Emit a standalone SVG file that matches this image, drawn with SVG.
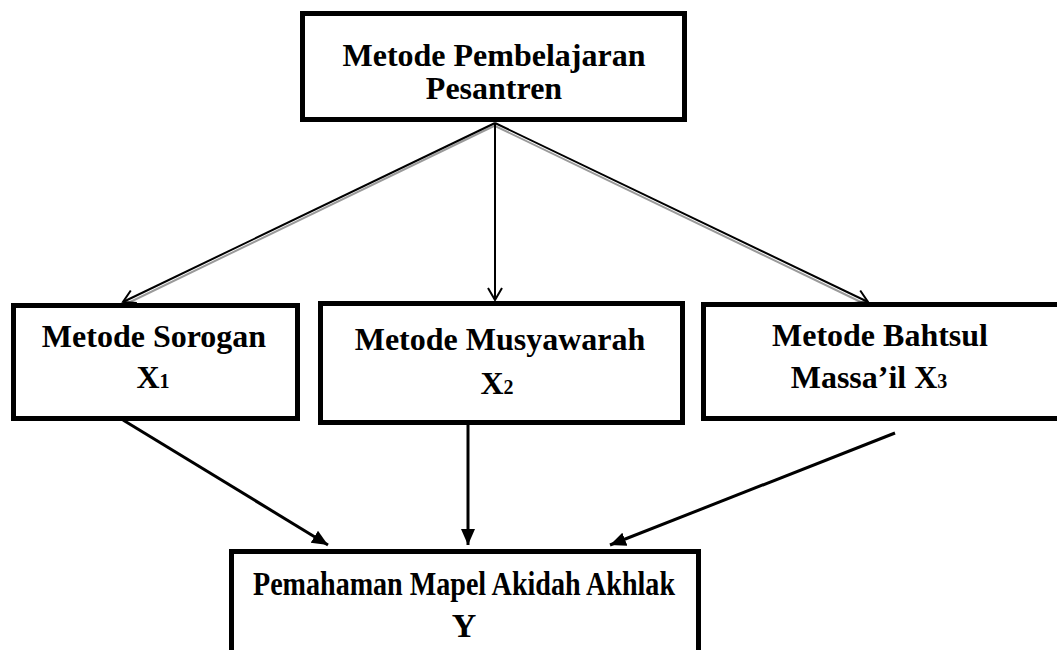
<svg xmlns="http://www.w3.org/2000/svg" width="1057" height="650" viewBox="0 0 1057 650">
<style>
.box{fill:#fff;stroke:#000;stroke-width:5}
.t{font-family:"Liberation Serif","Times New Roman",serif;font-weight:bold;font-size:32px;fill:#000;text-anchor:middle}
.big{font-size:34px}
.sub{font-size:20px}
.thin{stroke:#000;stroke-width:2;fill:none}
.shadow{stroke:#9a9a9a;stroke-width:2;fill:none}
.thick{stroke:#000;stroke-width:3;fill:none}
</style>
<defs>
<marker id="open" markerUnits="userSpaceOnUse" markerWidth="20" markerHeight="20" refX="14" refY="8" orient="auto">
<path d="M2,1 L14,8 L2,15" fill="none" stroke="#000" stroke-width="2"/>
</marker>
<marker id="solid" markerUnits="userSpaceOnUse" markerWidth="20" markerHeight="20" refX="16" refY="8" orient="auto">
<path d="M0,1 L16,8 L0,15 Z" fill="#000"/>
</marker>
</defs>
<rect width="1057" height="650" fill="#fff"/>
<g id="connectors">
<line class="shadow" x1="496" y1="125" x2="126" y2="304"/>
<line class="shadow" x1="494" y1="125.5" x2="866" y2="304.5"/>
<line class="thin" x1="495" y1="123" x2="123" y2="302" marker-end="url(#open)"/>
<line class="thin" x1="495" y1="123" x2="495" y2="300" marker-end="url(#open)"/>
<line class="thin" x1="495" y1="123" x2="868" y2="302" marker-end="url(#open)"/>
<line class="thick" x1="123" y1="420" x2="328" y2="545" marker-end="url(#solid)"/>
<line class="thick" x1="468" y1="425" x2="468" y2="545" marker-end="url(#solid)"/>
<line class="thick" x1="895" y1="433" x2="610" y2="545" marker-end="url(#solid)"/>
</g>
<g id="node-top">
<rect class="box" x="302.5" y="13.5" width="382" height="106"/>
<text class="t" x="494" y="66">Metode Pembelajaran</text>
<text class="t" x="494" y="99">Pesantren</text>
</g>
<g id="node-sorogan">
<rect class="box" x="13.5" y="305.5" width="284" height="113"/>
<text class="t" x="154" y="347">Metode Sorogan</text>
<text class="t" x="153" y="388">X<tspan class="sub">1</tspan></text>
</g>
<g id="node-musyawarah">
<rect class="box" x="320.5" y="303.5" width="362" height="119"/>
<text class="t" x="500" y="350">Metode Musyawarah</text>
<text class="t" x="497" y="394">X<tspan class="sub">2</tspan></text>
</g>
<g id="node-bahtsul">
<rect class="box" x="703.5" y="304.5" width="400" height="114"/>
<text class="t" x="880" y="346">Metode Bahtsul</text>
<text class="t" x="869" y="388">Massa’il X<tspan class="sub">3</tspan></text>
</g>
<g id="node-y">
<rect class="box" x="231.5" y="551.5" width="467" height="150"/>
<text class="t big" x="464" y="595" textLength="422" lengthAdjust="spacingAndGlyphs">Pemahaman Mapel Akidah Akhlak</text>
<text class="t big" x="464" y="637">Y</text>
</g>
</svg>
